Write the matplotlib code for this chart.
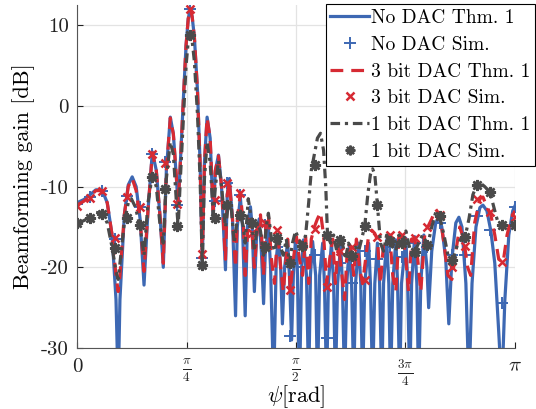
import numpy as np
import matplotlib
matplotlib.use("Agg")
import matplotlib.pyplot as plt
from matplotlib.lines import Line2D

plt.rcParams['font.family'] = 'cmr10'
plt.rcParams['mathtext.fontset'] = 'cm'
plt.rcParams['axes.unicode_minus'] = False

# theory curves: (psi / pi, gain in dB)
no_dac_thm = [
    (0.000, -12.0), (0.016, -11.6), (0.030, -11.0), (0.043, -10.4), (0.057, -10.4),
    (0.069, -12.0), (0.080, -16.0), (0.089, -24), (0.094, -35), (0.098, -24),
    (0.108, -13.5), (0.117, -9.8), (0.126, -8.8), (0.135, -10), (0.144, -14),
    (0.153, -22.2), (0.162, -13), (0.172, -5.7), (0.181, -8), (0.190, -14),
    (0.197, -20), (0.204, -8), (0.213, -1.4), (0.220, -3.5), (0.227, -9),
    (0.231, -12.5), (0.236, -7), (0.243, 1), (0.249, 7.5), (0.254, 10.8),
    (0.259, 12.0), (0.263, 11), (0.268, 8.5), (0.275, 2), (0.281, -7),
    (0.286, -19.5), (0.291, -7), (0.297, -1.4), (0.304, -4), (0.311, -13.7),
    (0.316, -8), (0.323, -6.1), (0.330, -10), (0.339, -20.3), (0.343, -11),
    (0.348, -9), (0.355, -14), (0.362, -26), (0.366, -15), (0.373, -11.3),
    (0.378, -15), (0.384, -26), (0.389, -15), (0.396, -12.5), (0.400, -15),
    (0.405, -23), (0.410, -16), (0.416, -14), (0.421, -18), (0.426, -24.5),
    (0.430, -18), (0.437, -15), (0.442, -20), (0.449, -35), (0.455, -19),
    (0.460, -16.2), (0.465, -20), (0.469, -27), (0.474, -20), (0.481, -16.8),
    (0.485, -21), (0.490, -29), (0.494, -21), (0.499, -16.4), (0.503, -20),
    (0.508, -35), (0.513, -20), (0.517, -16.6), (0.524, -21), (0.529, -35),
    (0.533, -21), (0.538, -16.8), (0.545, -21), (0.549, -35), (0.554, -21),
    (0.561, -17), (0.565, -22), (0.570, -35), (0.574, -22), (0.581, -17),
    (0.586, -22), (0.590, -35), (0.595, -22), (0.602, -17.2), (0.606, -22),
    (0.611, -35), (0.616, -22), (0.622, -17.2), (0.627, -22), (0.632, -35),
    (0.636, -22), (0.643, -17), (0.648, -22), (0.652, -35), (0.657, -22),
    (0.666, -17), (0.670, -22), (0.675, -35), (0.680, -22), (0.686, -17),
    (0.691, -22), (0.696, -35), (0.700, -22), (0.707, -16.6), (0.712, -22),
    (0.716, -35), (0.721, -22), (0.728, -16.6), (0.732, -22), (0.737, -35),
    (0.741, -22), (0.751, -16.4), (0.755, -22), (0.760, -35), (0.764, -22),
    (0.771, -16.2), (0.776, -22), (0.780, -35), (0.785, -22), (0.792, -16),
    (0.799, -20), (0.803, -25), (0.810, -18), (0.819, -14.5), (0.826, -13.8),
    (0.833, -15), (0.842, -19), (0.849, -27), (0.856, -19), (0.865, -14.5),
    (0.872, -13.8), (0.879, -15), (0.888, -22), (0.895, -35), (0.902, -22),
    (0.911, -15), (0.920, -12.6), (0.927, -12.3), (0.936, -13), (0.945, -15.5),
    (0.954, -19.5), (0.963, -28), (0.970, -35), (0.977, -24), (0.986, -16),
    (0.995, -13), (1.000, -12.4),
]

dac3_thm = [
    (0.000, -12.3), (0.016, -11.8), (0.030, -11.2), (0.043, -10.5), (0.057, -10.5),
    (0.069, -12), (0.080, -16), (0.089, -21), (0.094, -23), (0.098, -21),
    (0.108, -13.5), (0.117, -10), (0.126, -9), (0.135, -10.5), (0.144, -14),
    (0.153, -20.5), (0.162, -13), (0.172, -5.8), (0.181, -8), (0.190, -14),
    (0.197, -19.5), (0.204, -8), (0.213, -1.5), (0.220, -3.5), (0.227, -9),
    (0.231, -12), (0.236, -7), (0.243, 1), (0.249, 7.5), (0.254, 10.8),
    (0.259, 12.0), (0.263, 11), (0.268, 8.5), (0.275, 2), (0.281, -7),
    (0.286, -19), (0.291, -7), (0.297, -1.5), (0.304, -4), (0.311, -13),
    (0.316, -8), (0.323, -6.2), (0.330, -10), (0.339, -19), (0.343, -11),
    (0.348, -9.5), (0.355, -14), (0.362, -20), (0.366, -14), (0.373, -10.8),
    (0.380, -15), (0.384, -21), (0.391, -14), (0.398, -14.5), (0.405, -20),
    (0.412, -15), (0.419, -13.5), (0.426, -21), (0.432, -14), (0.437, -13.5),
    (0.444, -19), (0.451, -22), (0.458, -15.5), (0.465, -20), (0.471, -23),
    (0.481, -16.5), (0.487, -22.8), (0.494, -19), (0.501, -16.2), (0.508, -19),
    (0.515, -21), (0.522, -16.2), (0.529, -22), (0.535, -16.5), (0.542, -15),
    (0.549, -14), (0.556, -13.2), (0.563, -16), (0.570, -22), (0.577, -19),
    (0.584, -16.5), (0.590, -22), (0.597, -17), (0.604, -20.5), (0.611, -24),
    (0.618, -17), (0.625, -17.5), (0.632, -21), (0.638, -16.5), (0.645, -20),
    (0.652, -22), (0.659, -19), (0.666, -16), (0.673, -15.4), (0.680, -15.8),
    (0.686, -16.6), (0.693, -22), (0.700, -17), (0.707, -16.3), (0.714, -16),
    (0.721, -21), (0.728, -23), (0.735, -16), (0.744, -15.9), (0.751, -19),
    (0.757, -23), (0.764, -16.5), (0.771, -16.4), (0.778, -19), (0.785, -23),
    (0.794, -16), (0.801, -15), (0.810, -14), (0.819, -12.8), (0.828, -13.5),
    (0.838, -17), (0.847, -21), (0.856, -21.5), (0.865, -18), (0.874, -15),
    (0.883, -16.5), (0.892, -20), (0.899, -21), (0.908, -14.5), (0.920, -11.5),
    (0.927, -11.3), (0.936, -12.5), (0.945, -13.5), (0.954, -16), (0.963, -19),
    (0.973, -19.4), (0.982, -16), (0.991, -14), (1.000, -13),
]

dac1_thm = [
    (0.000, -14.6), (0.016, -14.2), (0.030, -13.8), (0.043, -13.2), (0.057, -13.3),
    (0.069, -14.5), (0.080, -17.5), (0.089, -20.5), (0.094, -21.5), (0.098, -19.5),
    (0.108, -14.5), (0.117, -12), (0.124, -11.5), (0.133, -12.5), (0.144, -15),
    (0.153, -18.5), (0.162, -12), (0.172, -8.6), (0.181, -10), (0.190, -15),
    (0.197, -17), (0.204, -9), (0.213, -4.5), (0.220, -6), (0.227, -12),
    (0.231, -15), (0.236, -9), (0.243, -1.5), (0.249, 5), (0.254, 8),
    (0.259, 8.8), (0.263, 8), (0.268, 5.5), (0.275, -1), (0.281, -9),
    (0.286, -19.5), (0.291, -9), (0.297, -4.5), (0.304, -7), (0.311, -13.5),
    (0.316, -10), (0.323, -6.8), (0.330, -10), (0.339, -15), (0.346, -12),
    (0.352, -12.5), (0.359, -17), (0.366, -14), (0.373, -13.5), (0.380, -15),
    (0.384, -17), (0.391, -11.5), (0.398, -14), (0.405, -18), (0.412, -14.5),
    (0.419, -15.5), (0.426, -18.5), (0.432, -15), (0.437, -13.3), (0.444, -16.5),
    (0.451, -18), (0.458, -16.4), (0.465, -17.5), (0.471, -18.5), (0.478, -16.5),
    (0.485, -19.5), (0.492, -17), (0.499, -15.5), (0.506, -16.5), (0.515, -17.3),
    (0.522, -16), (0.529, -12), (0.535, -8), (0.542, -6), (0.549, -4),
    (0.556, -3.4), (0.563, -5.5), (0.568, -10), (0.572, -16), (0.579, -17),
    (0.586, -16), (0.593, -18), (0.600, -16.6), (0.606, -17), (0.613, -19),
    (0.620, -17), (0.629, -18.6), (0.636, -17.5), (0.643, -18), (0.650, -16.5),
    (0.657, -14.9), (0.664, -11), (0.670, -8.5), (0.675, -7.8), (0.680, -8.5),
    (0.686, -12.3), (0.693, -17), (0.700, -18), (0.707, -16), (0.714, -16.8),
    (0.721, -17.5), (0.728, -18), (0.735, -16), (0.744, -17), (0.751, -15.5),
    (0.757, -17), (0.764, -18.5), (0.771, -18.1), (0.780, -17), (0.789, -16),
    (0.801, -17.2), (0.810, -15), (0.819, -13.2), (0.828, -13.7), (0.838, -16),
    (0.847, -18.5), (0.858, -19.1), (0.867, -17.5), (0.876, -16.5), (0.886, -16.3),
    (0.895, -14), (0.904, -11), (0.913, -9.8), (0.922, -9.6), (0.931, -10),
    (0.943, -10.7), (0.954, -13), (0.963, -14.8), (0.973, -15), (0.982, -14.8),
    (0.991, -14.5), (1.000, -14.7),
]

# simulated points, one every pi/35
sim_idx = np.arange(36)
no_dac_sim = [-12.2, -11.3, -10.5, -16.5, -11.2, -12.5, -6.0, -7.0, -12.3, 12.0,
              -18.8, -11.8, -9.6, -11.0, -15.5, -14.8, -17.5, -28.5, -20.0, -18.5,
              -28.8, -19.5, -22.0, -18.0, -19.0, -17.5, -18.7, -17.0, -17.5, -14.5,
              -18.5, -18.5, -13.6, -15.4, -24.4, -12.5]
dac3_sim = [-12.4, -11.4, -10.5, -16.4, -11.3, -12.5, -6.0, -7.1, -12.1, 12.0,
            -18.3, -11.7, -9.5, -10.8, -15.7, -14.5, -15.4, -22.8, -17.0, -15.2,
            -22.4, -18.0, -17.5, -21.6, -16.2, -16.0, -16.0, -16.4, -15.0, -13.5,
            -20.0, -17.3, -11.6, -13.2, -19.3, -13.8]
dac1_sim = [-14.5, -13.9, -13.4, -17.6, -13.9, -14.8, -8.8, -10.3, -14.9, 8.8,
            -19.7, -13.9, -12.3, -13.5, -14.5, -17.5, -16.4, -19.5, -17.3, -7.3,
            -16.0, -16.6, -18.6, -14.9, -12.3, -16.8, -17.0, -18.1, -17.2, -13.7,
            -19.1, -16.3, -9.8, -10.7, -14.8, -14.8]

xtick_labels = ['0', r'$\frac{\pi}{4}$', r'$\frac{\pi}{2}$', r'$\frac{3\pi}{4}$', r'$\pi$']

blue = '#3d68b3'
red = '#d62a33'
gray = '#4a4a4a'

fig = plt.figure(figsize=(5.36, 4.09), dpi=100)
ax = fig.add_axes([0.1437, 0.149, 0.817, 0.839])

b = np.array(no_dac_thm)
r = np.array(dac3_thm)
k = np.array(dac1_thm)
sim_psi = sim_idx * np.pi / 35

ax.plot(b[:, 0] * np.pi, b[:, 1], color=blue, lw=2.3, solid_joinstyle='round')
ax.plot(sim_psi, no_dac_sim, '+', color=blue, ms=8, mew=1.4)
ax.plot(r[:, 0] * np.pi, r[:, 1], color=red, lw=2.3, dashes=(4, 2.5))
ax.plot(sim_psi, dac3_sim, 'x', color=red, ms=6, mew=1.8)
ax.plot(k[:, 0] * np.pi, k[:, 1], color=gray, lw=2.3, dashes=(3, 1.5, 1, 1.5))
ax.plot(sim_psi, dac1_sim, ls='none', marker=(8, 2, 0), color=gray, ms=8, mew=1.8)

ax.set_xlim(0, np.pi)
ax.set_ylim(-30, 12.5)
ax.set_xticks(np.arange(5) * np.pi / 4)
ax.set_xticklabels(xtick_labels, fontsize=15, va='top')
for lab in ax.get_xticklabels():
    if 'frac' in lab.get_text():
        lab.set_fontsize(13.5)
ax.set_yticks([-30, -20, -10, 0, 10])
ax.set_yticklabels(['-30', '-20', '-10', '0', '10'], fontsize=15)
ax.grid(True, color='#e3e3e3', lw=0.9)
ax.set_axisbelow(True)
ax.spines['top'].set_visible(False)
ax.spines['right'].set_visible(False)
for s in ('left', 'bottom'):
    ax.spines[s].set_color('#555555')
ax.tick_params(colors='#222222', direction='in', length=4, width=0.8, pad=6)
ax.tick_params(axis='x', pad=7)
ax.set_xlabel(r'$\psi$[rad]', fontsize=16)
ax.xaxis.set_label_coords(0.5, -0.102)
ax.set_ylabel('Beamforming gain [dB]', fontsize=16, labelpad=4)

handles = [
    Line2D([], [], color=blue, lw=2.3),
    Line2D([], [], ls='none', marker='+', color=blue, ms=8, mew=1.4),
    Line2D([], [], color=red, lw=2.3, dashes=(4, 2.5)),
    Line2D([], [], ls='none', marker='x', color=red, ms=6, mew=1.8),
    Line2D([], [], color=gray, lw=2.3, dashes=(3, 1.5, 1, 1.5)),
    Line2D([], [], ls='none', marker=(8, 2, 0), color=gray, ms=7, mew=1.6),
]
labels = ['No DAC Thm. 1', 'No DAC Sim.', '3 bit DAC Thm. 1', '3 bit DAC Sim.',
          '1 bit DAC Thm. 1', '1 bit DAC Sim.']
leg = fig.legend(handles, labels, loc='upper right', bbox_to_anchor=(0.999, 0.989),
                 fontsize=14, fancybox=False, framealpha=1, edgecolor='black',
                 handlelength=2.0, handletextpad=0.1, borderpad=0.25, labelspacing=0.45,
                 borderaxespad=0)
leg.get_frame().set_linewidth(0.8)

fig.savefig('out.png', dpi=100)
